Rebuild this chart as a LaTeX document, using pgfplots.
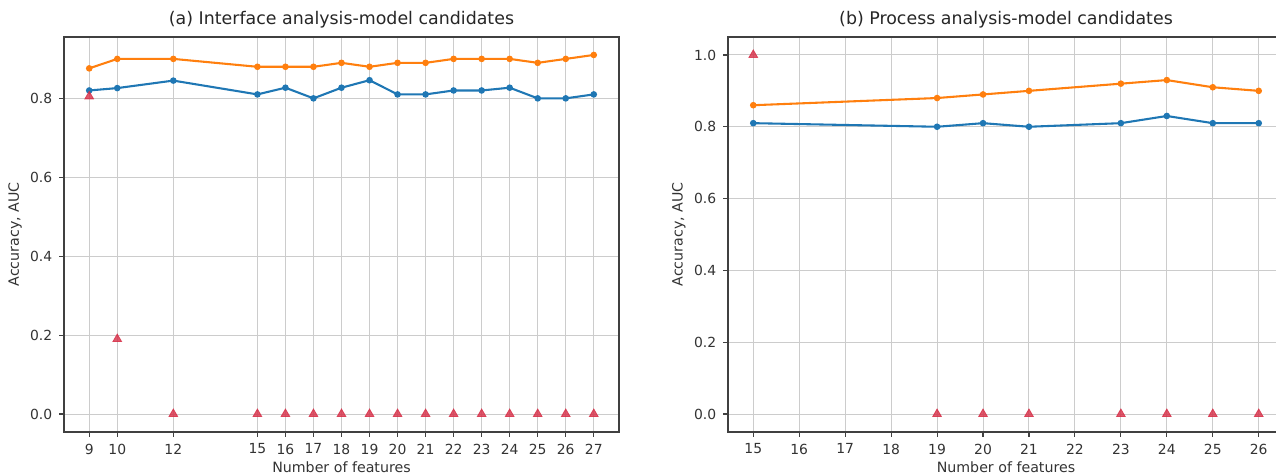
\documentclass[border=0pt]{standalone}
\usepackage{fontspec}
\setmainfont{DejaVu Sans}
\usepackage{pgfplots}
\pgfplotsset{compat=1.18}
\definecolor{mplblue}{HTML}{1F77B4}
\definecolor{mplorange}{HTML}{FF7F0E}
\definecolor{trired}{RGB}{214,45,70}
\pgfplotsset{
  myax/.style={
    scale only axis, width=277.5pt, height=197.5pt,
    axis line style={black!75, line width=0.56pt},
    grid=major, major grid style={gray!40, line width=0.5pt},
    tick align=outside, major tick length=2.4pt,
    tick style={black!75, line width=0.56pt},
    tick pos=left,
    ticklabel style={font=\fontsize{6.95}{8}\selectfont, text=black!80},
    /pgf/number format/assume math mode=true,
    y tick label style={/pgf/number format/.cd, fixed, fixed zerofill, precision=1},
    every axis title/.style={font=\fontsize{8.7}{10}\selectfont, text=black!85, at={(0.5,1)}, anchor=south, yshift=4pt, inner sep=0pt},
    every axis x label/.style={font=\fontsize{7.1}{8}\selectfont, text=black!80, at={(axis description cs:0.5,0)}, anchor=center, yshift=-17.5pt},
    every axis y label/.style={font=\fontsize{7.1}{8}\selectfont, text=black!80, at={(axis description cs:-0.0883,0.5)}, anchor=center, rotate=90},
    xlabel={Number of features}, ylabel={Accuracy, AUC},
  },
  lineb/.style={color=mplblue, line width=1.04pt, mark=*, mark size=1.1pt},
  lineo/.style={color=mplorange, line width=1.04pt, mark=*, mark size=1.1pt},
  tri/.style={only marks, mark=triangle*, mark size=2.5pt, color=trired, opacity=0.8},
}
\begin{document}
\begin{tikzpicture}
\begin{axis}[myax, at={(32pt,21pt)}, anchor=south west,
  title={(a) Interface analysis-model candidates},
  xmin=8.1, xmax=27.9, ymin=-0.0455, ymax=0.9555,
  xtick={9,10,12,15,16,17,18,19,20,21,22,23,24,25,26,27},
  ytick={0,0.2,0.4,0.6,0.8}]
\addplot[lineb] coordinates {(9,0.82) (10,0.826) (12,0.845) (15,0.81) (16,0.827) (17,0.80) (18,0.827) (19,0.846) (20,0.81) (21,0.81) (22,0.82) (23,0.82) (24,0.827) (25,0.80) (26,0.80) (27,0.81)};
\addplot[lineo] coordinates {(9,0.876) (10,0.90) (12,0.90) (15,0.88) (16,0.88) (17,0.88) (18,0.89) (19,0.88) (20,0.89) (21,0.89) (22,0.90) (23,0.90) (24,0.90) (25,0.89) (26,0.90) (27,0.91)};
\addplot[tri] coordinates {(9,0.805) (10,0.19) (12,0) (15,0) (16,0) (17,0) (18,0) (19,0) (20,0) (21,0) (22,0) (23,0) (24,0) (25,0) (26,0) (27,0)};
\end{axis}
\begin{axis}[myax, at={(364pt,21pt)}, anchor=south west, width=278pt,
  title={(b) Process analysis-model candidates},
  xmin=14.45, xmax=26.55, ymin=-0.05, ymax=1.05,
  xtick={15,16,17,18,19,20,21,22,23,24,25,26},
  ytick={0,0.2,0.4,0.6,0.8,1.0}]
\addplot[lineb] coordinates {(15,0.81) (19,0.80) (20,0.81) (21,0.80) (23,0.81) (24,0.83) (25,0.81) (26,0.81)};
\addplot[lineo] coordinates {(15,0.86) (19,0.88) (20,0.89) (21,0.90) (23,0.92) (24,0.93) (25,0.91) (26,0.90)};
\addplot[tri] coordinates {(15,1.0) (19,0) (20,0) (21,0) (23,0) (24,0) (25,0) (26,0)};
\end{axis}
\pgfresetboundingbox
\useasboundingbox (0,0) rectangle (638pt,237pt);
\end{tikzpicture}
\end{document}
